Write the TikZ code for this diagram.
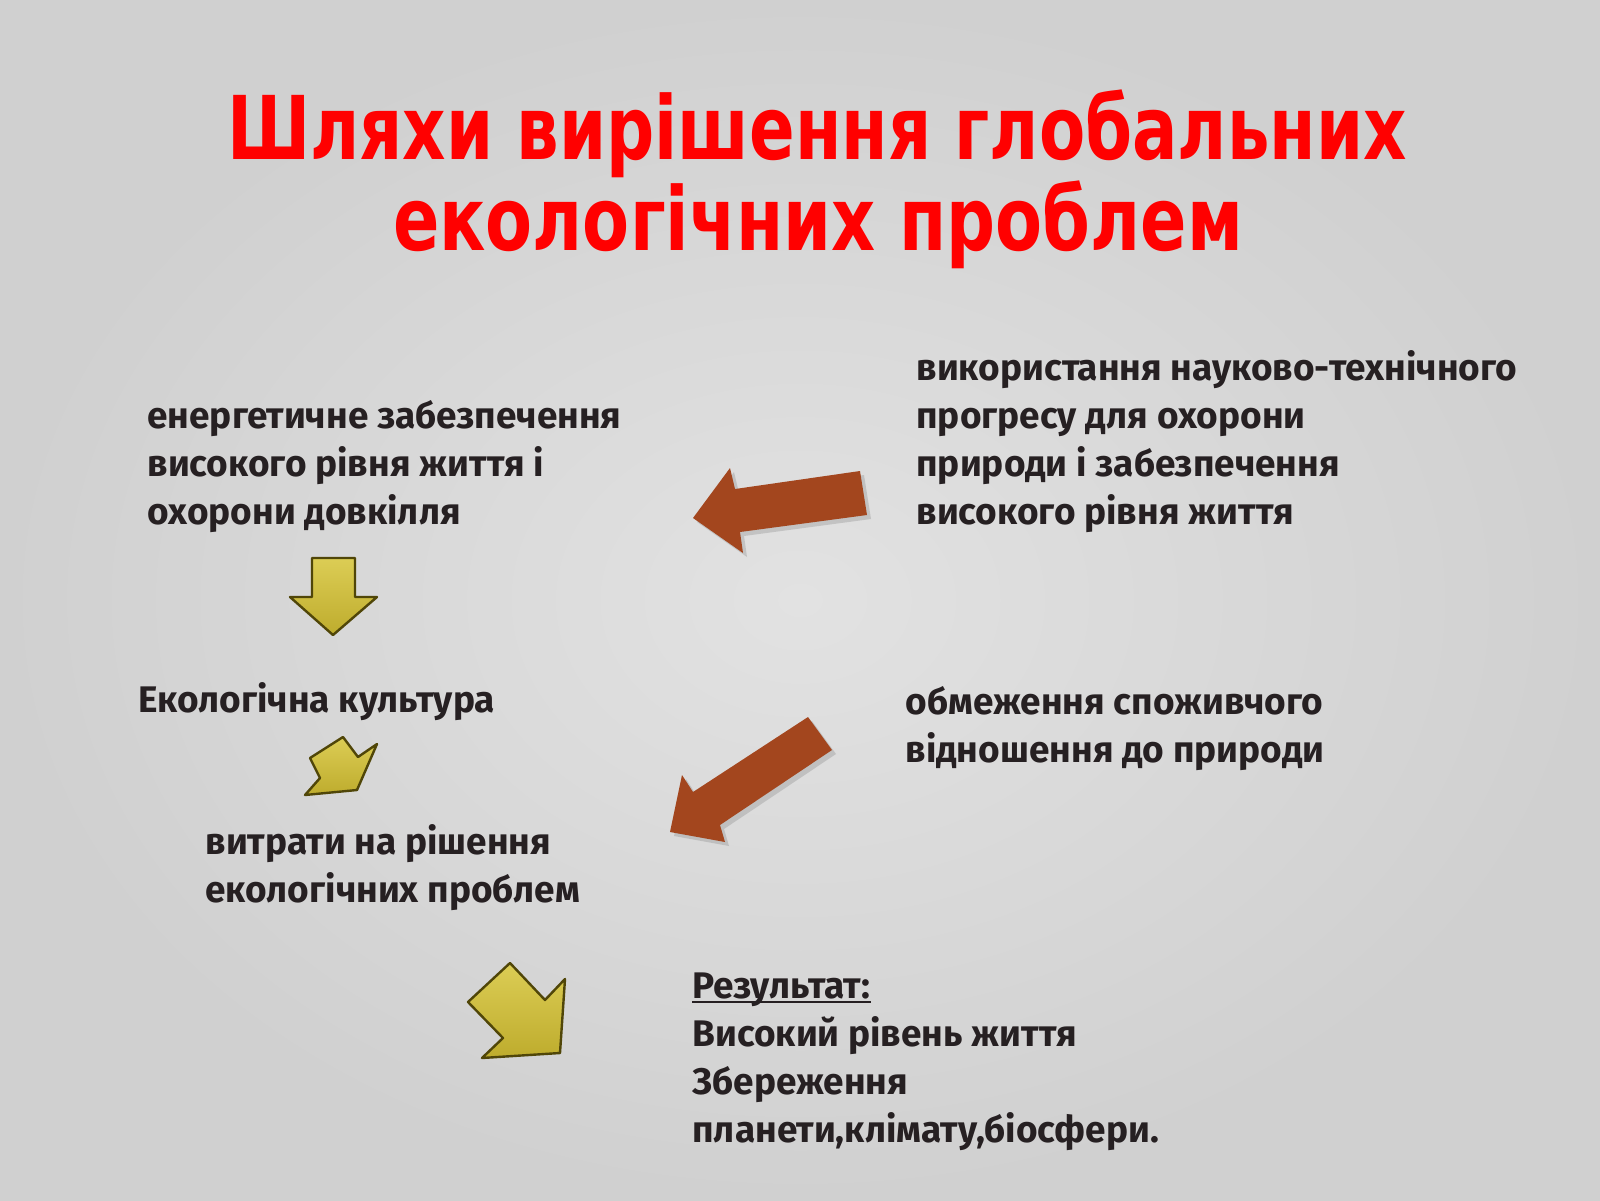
\documentclass[tikz,border=0pt]{standalone}
\usepackage{fontspec}
\usepackage{graphicx}
\setmainfont{Fira Sans}
\newfontfamily\titlefont{DejaVu Sans}
\usetikzlibrary{shadows}
\definecolor{bgin}{RGB}{226,226,226}
\definecolor{bgout}{RGB}{208,208,208}
\definecolor{txt}{RGB}{38,32,34}
\definecolor{rust}{RGB}{163,70,30}
\definecolor{olivetop}{RGB}{220,205,85}
\definecolor{olivebot}{RGB}{190,172,45}
\definecolor{olivedark}{RGB}{80,70,8}
\definecolor{titlered}{RGB}{255,0,0}
\tikzset{
  body/.style={font=\fontsize{18.5}{23}\selectfont\bfseries, text=txt, anchor=base west, inner sep=0pt},
  ttl/.style={font=\titlefont\bfseries\fontsize{44}{44}\selectfont, text=titlered, anchor=base, inner sep=0pt},
  yarrow/.style={top color=olivetop, bottom color=olivebot, draw=olivedark, line width=1.2pt, line join=round},
  barrow/.style={fill=rust, drop shadow={shadow xshift=2pt, shadow yshift=-2pt, opacity=0.3}}
}
\begin{document}
\begin{tikzpicture}[x=0.5pt,y=-0.5pt]
\useasboundingbox (0,0) rectangle (1600,1200);
\shade[inner color=bgin, outer color=bgout] (0,0) rectangle (1600,1200);
% title
\node[ttl] (t1) at (817,159) {\resizebox{590pt}{\height}{Шляхи вирішення глобальних}};
\node[ttl] (t2) at (818,250) {\resizebox{425pt}{\height}{екологічних проблем}};
% block A
\node[body] (a1) at (147,428) {енергетичне забезпечення};
\node[body] (a2) at (147,476) {високого рівня життя і};
\node[body] (a3) at (147,524) {охорони довкілля};
% block B
\node[body] (b1) at (916,380) {використання науково-технічного};
\node[body] (b2) at (916,428) {прогресу для охорони};
\node[body] (b3) at (916,476) {природи і забезпечення};
\node[body] (b4) at (916,524) {високого рівня життя};
% ecological culture
\node[body] (c1) at (138,712) {Екологічна культура};
% limitation
\node[body] (d1) at (905,714) {обмеження споживчого};
\node[body] (d2) at (905,762) {відношення до природи};
% costs
\node[body] (e1) at (205,854) {витрати на рішення};
\node[body] (e2) at (205,902) {екологічних проблем};
% result
\node[body] (r0) at (692,998) {Результат:};
\draw[txt, line width=1pt] ([yshift=-2.2pt]r0.base west) -- ([yshift=-2.2pt]r0.base east);
\node[body] (r1) at (692,1046) {Високий рівень життя};
\node[body] (r2) at (692,1094) {Збереження};
\node[body] (r3) at (692,1142) {планети,клімату,біосфери.};
% brown arrows
\path[barrow] (860,471) -- (867,515) -- (740,532) -- (743,553) -- (693,518) -- (730,468) -- (735,489) -- cycle;
\path[barrow] (808,717) -- (832,750) -- (720,825) -- (725,842) -- (670,832) -- (682,775) -- (693,792) -- cycle;
% yellow arrows
\path[yarrow] (312,558) -- (355,558) -- (355,597) -- (377,597) -- (333,635) -- (290,597) -- (312,597) -- cycle;
\path[yarrow] (343,737) -- (358,757) -- (377,744) -- (357,790) -- (305,795) -- (320,778) -- (310,758) -- cycle;
\path[yarrow] (510,963) -- (545,1000) -- (565,979) -- (560,1053) -- (482,1058) -- (503,1038) -- (468,1002) -- cycle;
\end{tikzpicture}
\end{document}
